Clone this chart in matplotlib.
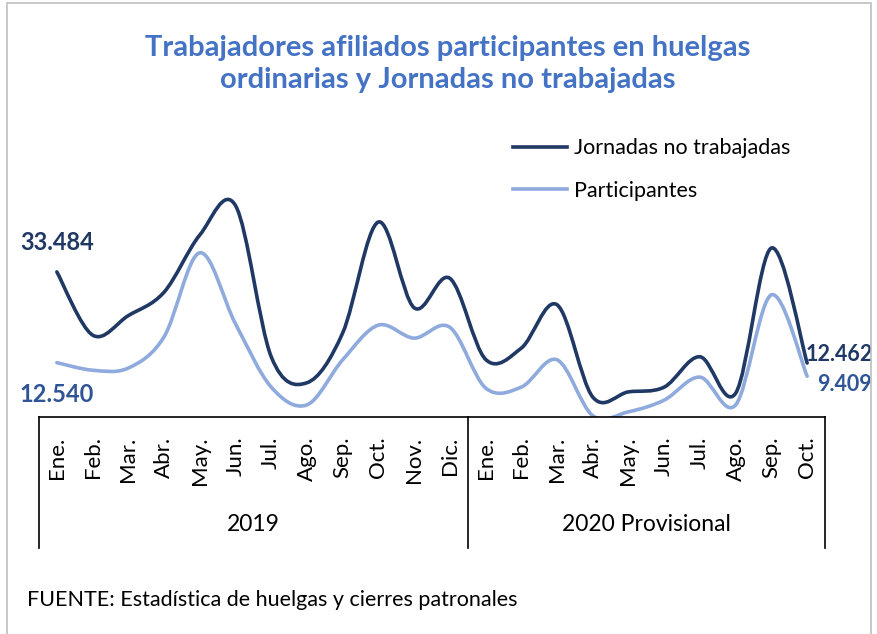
import matplotlib
matplotlib.use('Agg')
import matplotlib.pyplot as plt
import numpy as np
from matplotlib.path import Path
from matplotlib.patches import PathPatch, Rectangle
from matplotlib.lines import Line2D

plt.rcParams['font.family'] = ['Lato', 'DejaVu Sans']

# data
meses_2019 = ['Ene.', 'Feb.', 'Mar.', 'Abr.', 'May.', 'Jun.', 'Jul.', 'Ago.', 'Sep.', 'Oct.', 'Nov.', 'Dic.']
meses_2020 = ['Ene.', 'Feb.', 'Mar.', 'Abr.', 'May.', 'Jun.', 'Jul.', 'Ago.', 'Sep.', 'Oct.']
grupos = ['2019', '2020 Provisional']
jornadas = [33484, 18900, 23400, 28800, 42000, 48800, 13900, 7900, 19400, 45000, 25200, 32000,
            13300, 15900, 25900, 4600, 5800, 6900, 13900, 5500, 39000, 12462]
participantes = [12540, 10800, 11300, 18500, 37900, 21500, 6900, 2800, 13200, 21200, 18200, 20700,
                 6700, 6900, 13200, 300, 1200, 3900, 9200, 2800, 28200, 9409]

c_dark = '#203864'
c_light = '#8FAADC'
c_label = '#2F5597'


def smooth_path(xs, ys):
    # bezier curve through the points, like Excel "smoothed line"
    pts = np.column_stack([xs, ys]).astype(float)
    n = len(pts)
    verts = [pts[0]]
    codes = [Path.MOVETO]
    for i in range(n - 1):
        p0 = pts[i - 1] if i > 0 else pts[i]
        p1, p2 = pts[i], pts[i + 1]
        p3 = pts[i + 2] if i + 2 < n else pts[i + 1]
        verts += [p1 + (p2 - p0) / 6, p2 - (p3 - p1) / 6, p2]
        codes += [Path.CURVE4] * 3
    return Path(verts, codes)


def fmt(v):
    return f'{v:,}'.replace(',', '.')


W, H = 877, 634
fig = plt.figure(figsize=(W / 100, H / 100), dpi=100)
fig.patches.append(Rectangle((7 / W, -0.05), 864 / W, 1 - 3 / H + 0.05, transform=fig.transFigure,
                             fill=False, edgecolor='#BFBFBF', linewidth=1.2))

ax = fig.add_axes([39 / W, 1 - 417 / H, 786 / W, 260 / H])
labels = meses_2019 + meses_2020
x = np.arange(len(labels))

ax.add_patch(PathPatch(smooth_path(x, jornadas), fill=False, edgecolor=c_dark, lw=2.6,
                       capstyle='round', joinstyle='round'))
ax.add_patch(PathPatch(smooth_path(x, participantes), fill=False, edgecolor=c_light, lw=2.6,
                       capstyle='round', joinstyle='round'))

ax.set_xlim(-0.5, len(labels) - 0.5)
ax.set_ylim(0, 60000)
ax.set_yticks([])
for s in ['top', 'left', 'right']:
    ax.spines[s].set_visible(False)
ax.spines['bottom'].set_linewidth(1.2)
ax.set_xticks(x)
ax.set_xticklabels(labels, rotation=90, fontsize=16)
ax.tick_params(axis='x', length=0, pad=14)

# category group boxes
tr = ax.get_xaxis_transform()
for xv in [-0.5, len(meses_2019) - 0.5, len(labels) - 0.5]:
    ax.plot([xv, xv], [0, -0.505], transform=tr, color='black', lw=1.2, clip_on=False)
ax.text((len(meses_2019) - 1) / 2, -0.415, grupos[0], transform=tr, ha='center', va='center', fontsize=16.5)
ax.text(len(meses_2019) + (len(meses_2020) - 1) / 2, -0.415, grupos[1], transform=tr,
        ha='center', va='center', fontsize=16.5)

# data labels
ax.annotate(fmt(jornadas[0]), (0, jornadas[0]), xytext=(0, 21), textcoords='offset points',
            ha='center', va='center', fontsize=17, fontweight='bold', color=c_dark)
ax.annotate(fmt(participantes[0]), (0, participantes[0]), xytext=(0, -23), textcoords='offset points',
            ha='center', va='center', fontsize=17, fontweight='bold', color=c_label)
ax.annotate(fmt(jornadas[-1]), (x[-1], jornadas[-1]), xytext=(-1, 6), textcoords='offset points',
            ha='left', va='center', fontsize=15.5, fontweight='bold', color=c_dark, annotation_clip=False)
ax.annotate(fmt(participantes[-1]), (x[-1], participantes[-1]), xytext=(7, -6), textcoords='offset points',
            ha='left', va='center', fontsize=15.5, fontweight='bold', color=c_label, annotation_clip=False)

handles = [Line2D([], [], color=c_dark, lw=2.6), Line2D([], [], color=c_light, lw=2.6)]
fig.legend(handles, ['Jornadas no trabajadas', 'Participantes'], loc='upper left',
           bbox_to_anchor=(494 / W, 1 - 119 / H), frameon=False, fontsize=15.5,
           handlelength=2.5, handletextpad=0.3, labelspacing=1.05)

fig.text(448 / W, 1 - 64 / H, 'Trabajadores afiliados participantes en huelgas\nordinarias y Jornadas no trabajadas',
         ha='center', va='center', fontsize=21, fontweight='bold', color='#4472C4', linespacing=1.3)
fig.text(27 / W, 1 - 600 / H, 'FUENTE: Estadística de huelgas y cierres patronales', ha='left', va='center',
         fontsize=15.5)

fig.savefig('out.png', dpi=100)
